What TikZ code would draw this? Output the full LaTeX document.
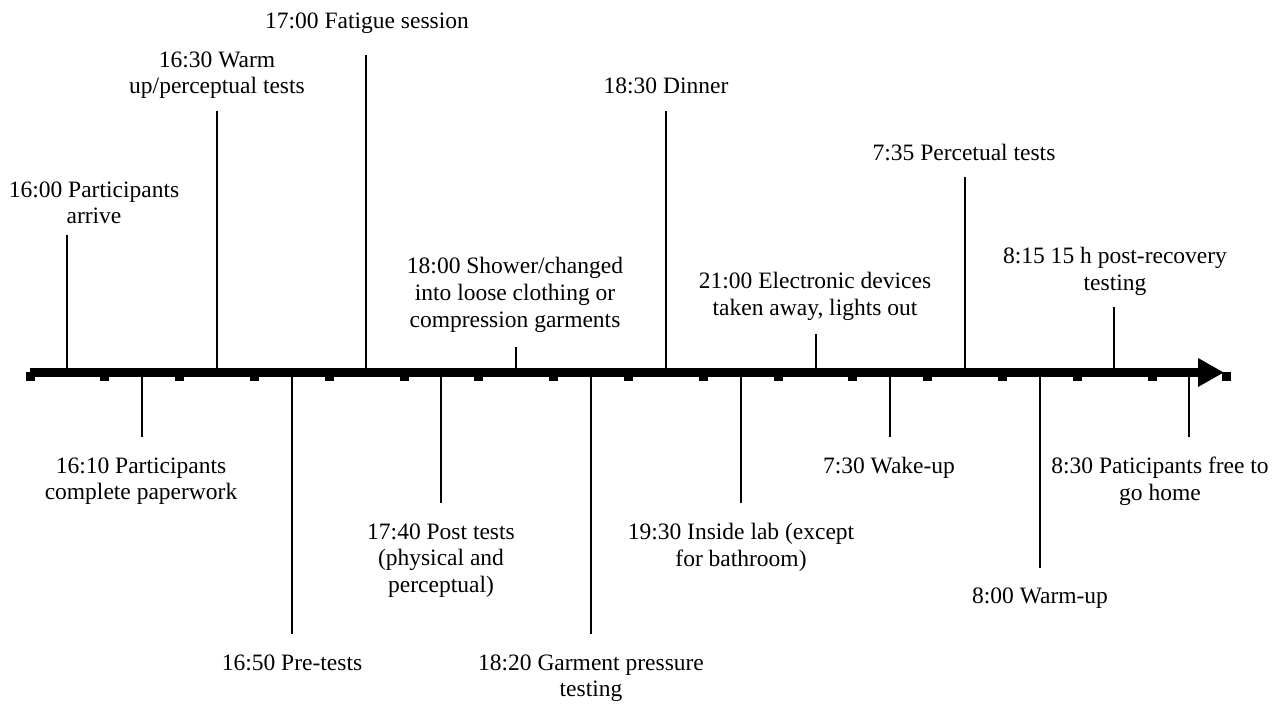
\documentclass[tikz,border=0pt]{standalone}
\usepackage{fontspec}
\setmainfont{Liberation Serif}
\usetikzlibrary{arrows.meta}

\tikzset{
  lbl/.style={anchor=north,align=center,inner sep=0pt,font=\fontsize{11.75}{13.35}\selectfont},
  evt/.style={line width=0.9pt},
  axisline/.style={line width=4.5pt,-{Triangle[length=13pt,width=13.5pt]}}
}

\begin{document}
\begin{tikzpicture}[x=0.5pt,y=-0.5pt]
\useasboundingbox (0,0) rectangle (1284,704);
% time axis
\coordinate (start) at (30,372.5);
\coordinate (end) at (1224,372.5);
\foreach \k in {0,...,16}
  \fill ({30+74.8*\k-4.5},372) rectangle ++(9,9);
% events above the axis
\node (1) at (94,181) [lbl] {16:00 Participants\\arrive};
\node (2) at (217,51) [lbl] {16:30 Warm\\up/perceptual tests};
\node (3) at (367,12) [lbl] {17:00 Fatigue session};
\node (4) at (515,257) [lbl] {18:00 Shower/changed\\into loose clothing or\\compression garments};
\node (5) at (666,77) [lbl] {18:30 Dinner};
\node (6) at (815,272) [lbl] {21:00 Electronic devices\\taken away, lights out};
\node (7) at (964,144) [lbl] {7:35 Percetual tests};
\node (8) at (1115,247) [lbl] {8:15 15 h post-recovery\\testing};
% events below the axis
\node (9) at (141,457) [lbl] {16:10 Participants\\complete paperwork};
\node (10) at (292,654) [lbl] {16:50 Pre-tests};
\node (11) at (441,523) [lbl] {17:40 Post tests\\(physical and\\perceptual)};
\node (12) at (591,654) [lbl] {18:20 Garment pressure\\testing};
\node (13) at (741,523) [lbl] {19:30 Inside lab (except\\for bathroom)};
\node (14) at (889,457) [lbl] {7:30 Wake-up};
\node (15) at (1040,587) [lbl] {8:00 Warm-up};
\node (16) at (1160,457) [lbl] {8:30 Paticipants free to\\go home};
% line ends
\coordinate (e1) at (67,235);
\coordinate (e2) at (217,111);
\coordinate (e3) at (366,55);
\coordinate (e4) at (516,347);
\coordinate (e5) at (666,111);
\coordinate (e6) at (816,334);
\coordinate (e7) at (965,177);
\coordinate (e8) at (1114,307);
\coordinate (e9) at (142,437);
\coordinate (e10) at (292,634);
\coordinate (e11) at (441,503);
\coordinate (e12) at (591,634);
\coordinate (e13) at (741,503);
\coordinate (e14) at (890,437);
\coordinate (e15) at (1040,568);
\coordinate (e16) at (1189,437);
\draw[evt] (e1) -- (e1 |- start);
\draw[evt] (e2) -- (e2 |- start);
\draw[evt] (e3) -- (e3 |- start);
\draw[evt] (e4) -- (e4 |- start);
\draw[evt] (e5) -- (e5 |- start);
\draw[evt] (e6) -- (e6 |- start);
\draw[evt] (e7) -- (e7 |- start);
\draw[evt] (e8) -- (e8 |- start);
\draw[evt] (e9) -- (e9 |- start);
\draw[evt] (e10) -- (e10 |- start);
\draw[evt] (e11) -- (e11 |- start);
\draw[evt] (e12) -- (e12 |- start);
\draw[evt] (e13) -- (e13 |- start);
\draw[evt] (e14) -- (e14 |- start);
\draw[evt] (e15) -- (e15 |- start);
\draw[evt] (e16) -- (e16 |- start);
\draw[axisline] (start) -- (end);
\end{tikzpicture}
\end{document}
